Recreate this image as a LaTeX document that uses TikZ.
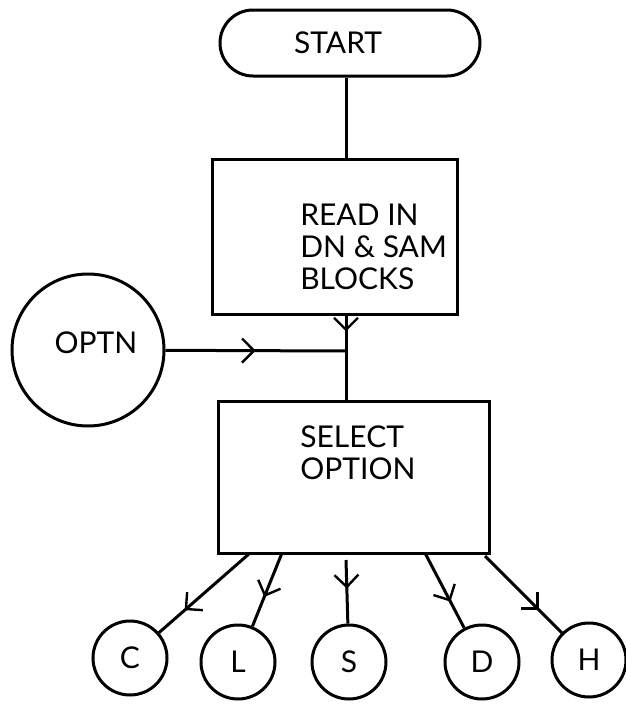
\documentclass[tikz,border=0pt]{standalone}
\usepackage{fontspec}
\setmainfont{Lato}
\usetikzlibrary{
		calc,
		positioning,
		arrows.meta,
		decorations.markings
	}
\tikzset{
		>=stealth
	}

\begin{document}
\begin{tikzpicture}[x=1pt, y=-1pt, line width=3pt,
		font=\fontsize{30}{32}\selectfont,
		box/.style={draw, rectangle, inner sep=0pt},
		pill/.style={draw, rectangle, rounded corners=33pt, minimum width=260pt, minimum height=66pt, inner sep=0pt},
		opt/.style={draw, circle, minimum size=74pt, inner sep=0pt},
		midarrow/.style={postaction={decorate}, decoration={markings,
				mark=at position #1 with {\arrow{Straight Barb[length=12pt, width=24pt, line width=2.4pt]}}}}]
	\useasboundingbox (0,0) rectangle (626,704);
	% boxes
	\node[pill, label={[name=starttxt, xshift=-12pt]center:START}] (start) at (350,43) {};
	\node[box, minimum width=245pt, minimum height=155pt,
		label={[name=readtxt, anchor=west, align=left, xshift=85pt, yshift=-10pt]west:READ IN\\DN \& SAM\\BLOCKS}] (read) at (334.5,236.5) {};
	\node[box, minimum width=271pt, minimum height=152pt,
		label={[name=seltxt, anchor=west, align=left, xshift=79pt, yshift=24pt]west:SELECT\\OPTION}] (sel) at (353.5,477) {};
	\node[draw, circle, minimum size=152pt, inner sep=0pt, label={[name=optntxt, xshift=8pt, yshift=7pt]center:OPTN}] (optn) at (88,350) {};
	\coordinate (join) at (346,351);
	% options
	\node[opt] (c) at (130,658) {C};
	\node[opt] (l) at (238,662) {L};
	\node[opt] (s) at (349,662) {S};
	\node[opt] (d) at (482,662) {D};
	\node[opt] (h) at (589,660) {H};
	% connectors
	\draw (start.south -| join) -- (read.north -| join);
	\draw[midarrow=0.45] (read.south -| join) -- (join);
	\draw[midarrow=0.5] (optn) -- (join);
	\draw (join) -- (sel.north -| join);
	\coordinate (sc) at (250,553);
	\coordinate (sl) at (282,553);
	\coordinate (ss) at (346,560);
	\coordinate (sd) at (425,553);
	\coordinate (sh) at (485,556);
	\draw[midarrow=0.72] (sc) -- (c); % arrow mark near the circle end
	\draw[midarrow=0.6] (sl) -- (l);
	\draw[midarrow=0.45] (ss) -- (s);
	\draw[midarrow=0.65] (sd) -- (d);
	\draw[midarrow=0.7] (sh) -- (h);
\end{tikzpicture}
\end{document}
